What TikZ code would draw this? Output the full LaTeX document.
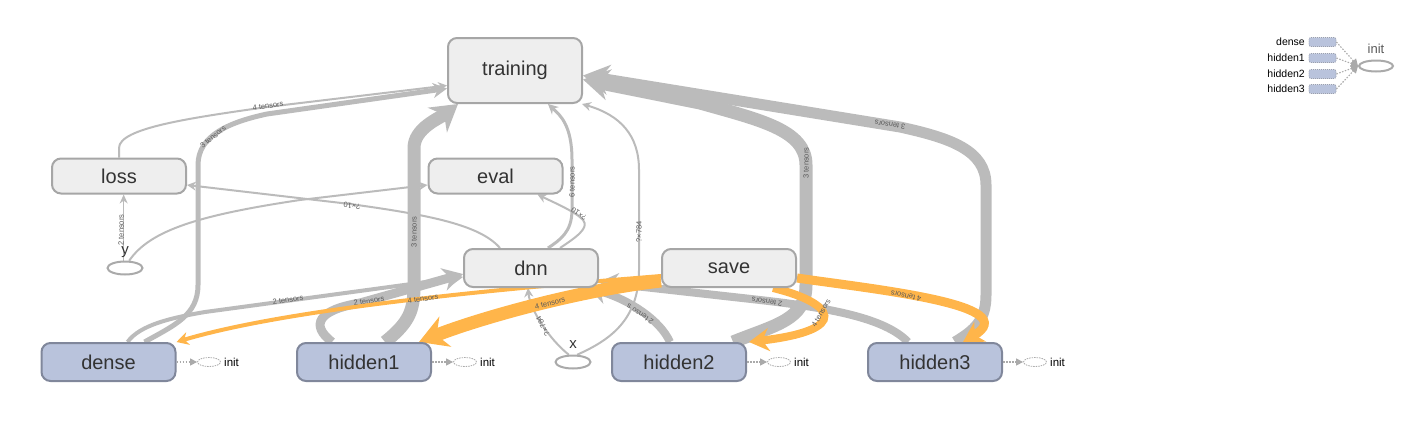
\documentclass[tikz,border=0pt]{standalone}
\usepackage{fontspec}
\setmainfont{Liberation Sans}
\usetikzlibrary{arrows.meta,shapes.geometric}
\definecolor{eg}{RGB}{187,187,187}
\definecolor{ref}{RGB}{255,181,74}
\definecolor{nfill}{RGB}{238,238,238}
\definecolor{ndraw}{RGB}{166,166,166}
\definecolor{bfill}{RGB}{185,195,220}
\definecolor{bdraw}{RGB}{128,135,155}
\definecolor{lbl}{RGB}{90,90,90}
\definecolor{txt}{RGB}{51,51,51}
\definecolor{dotg}{RGB}{170,170,170}
\pgfdeclarelayer{bg}
\pgfsetlayers{bg,main}
\begin{document}
\begin{tikzpicture}[x=1pt,y=-1pt,
  gbox/.style={draw=ndraw, fill=nfill, line width=2pt, rounded corners=9pt,
    minimum width=134pt, minimum height=38pt, inner sep=0pt,
    font=\fontsize{20}{24}\selectfont, text=txt},
  bbox/.style={gbox, draw=bdraw, fill=bfill},
  gedge/.style={draw=eg, line width=#1},
  oedge/.style={draw=ref, line width=#1},
  arr/.style 2 args={-{Stealth[length=#1,width=#2]}},
  elab/.style={font=\fontsize{7.5}{9}\selectfont, text=lbl, inner sep=0pt},
  inell/.style={ellipse, draw=dotg, line width=2pt, fill=white, minimum width=35pt, minimum height=13pt, inner sep=0pt},
  initell/.style={ellipse, draw=dotg, dash pattern=on 1.5pt off 1pt, line width=0.8pt, fill=white, minimum width=23pt, minimum height=9pt, inner sep=0pt},
  initlab/.style={font=\fontsize{11.5}{13}\selectfont, inner sep=0pt},
  dotedge/.style={draw=dotg, line width=1.3pt, dash pattern=on 1.5pt off 1.5pt, -{Triangle[length=7pt,width=7pt]}},
  legbox/.style={draw=bdraw!80, fill=bfill, dash pattern=on 1pt off 1pt, line width=0.8pt, rounded corners=2pt, minimum width=27pt, minimum height=9pt, inner sep=0pt},
  leglab/.style={font=\fontsize{10.5}{12}\selectfont, anchor=east, inner sep=0pt},
  varlab/.style={font=\fontsize{15}{17}\selectfont, text=txt, inner sep=0pt}
]
\useasboundingbox (0,0) rectangle (1420,431);

% nodes
\node[gbox, minimum height=65pt] (training) at (515,70.5) {training};
\node[gbox, minimum height=35pt] (loss) at (119,176) {loss};
\node[gbox, minimum height=35pt] (eval) at (495.5,176) {eval};
\node[gbox] (dnn) at (531,268) {dnn};
\node[gbox] (save) at (729,268) {save};
\node[bbox] (dense) at (108.5,362) {dense};
\node[bbox] (hidden1) at (364,362) {hidden1};
\node[bbox] (hidden2) at (679,362) {hidden2};
\node[bbox] (hidden3) at (935,362) {hidden3};
\node[inell] (y) at (125,268) {};
\node[varlab] (ylab) at (125,252) {y};
\node[inell] (x) at (573,362) {};
\node[varlab] (xlab) at (573,345) {x};

% init nodes
\foreach \n/\cx in {dense/209, hidden1/465, hidden2/779, hidden3/1035}{
  \node[initell] (\n init) at (\cx,362) {};
  \node[initlab, anchor=west] (\n initlab) at (\cx+15,362) {init};
  \draw[dotedge] (\n.east) -- (\n init.west);
}

% legend
\node[inell, minimum width=34pt, minimum height=11pt] (leginit) at (1376,66) {};
\node[font=\fontsize{13}{15}\selectfont, text=lbl, inner sep=0pt] (leginitlab) at (1376,49) {init};
\foreach \i/\t/\yy in {1/dense/42, 2/hidden1/58, 3/hidden2/74, 4/hidden3/89}{
  \node[legbox] (lb\i) at (1322.5,\yy) {};
  \node[leglab] (ll\i) at (1305,\yy) {\t};
  \draw[draw=dotg, line width=1.1pt, dash pattern=on 1.5pt off 1.5pt, -{Triangle[length=7pt,width=7pt]}] (lb\i.east) -- (leginit.west);
}

\begin{pgfonlayer}{bg}
% loss -> training
\draw[gedge=2pt, arr={9pt}{9pt}] (loss.north) -- (119,148) .. controls (119,128) and (190,118) .. (267,107) -- ([yshift=-15pt]training.west);
\node[elab, rotate=8] (l1) at (268,106) {4 tensors};
% dense -> training
\draw[gedge=5pt, arr={14pt}{15pt}] ([xshift=36pt]dense.north) .. controls (175,325) and (198,315) .. (198,285) -- (198,165) .. controls (198,135) and (230,122) .. (267,114) -- ([yshift=-18pt]training.west);
\node[elab, rotate=40] (l2) at (213,137) {3 tensors};
% dense -> dnn
\draw[gedge=4pt, arr={12pt}{13pt}] ([xshift=19pt]dense.north) .. controls (140,325) and (170,318) .. (205,312) -- ([yshift=-9pt]dnn.west);
\node[elab, rotate=8] (l3) at (288,300) {2 tensors};
% hidden1 -> training
\draw[gedge=13pt, arr={26pt}{31pt}] ([xshift=21pt]hidden1.north) .. controls (410,322) and (414,310) .. (414,285) -- (414,148) .. controls (414,128) and (440,118) .. ([xshift=-57pt]training.south);
\node[elab, rotate=90] (l4) at (414,232) {3 tensors};
% hidden1 -> dnn
\draw[gedge=9pt, arr={20pt}{23pt}] ([xshift=-32pt]hidden1.north) .. controls (310,325) and (318,310) .. (360,303) -- ([yshift=-6pt]dnn.west);
\node[elab, rotate=9] (l5) at (369,301) {2 tensors};
% hidden2 -> training
\draw[gedge=13pt, arr={26pt}{31pt}] ([xshift=54pt]hidden2.north) .. controls (775,325) and (806,320) .. (806,285) -- (806,165) .. controls (806,130) and (760,120) .. (700,103) -- ([yshift=-9pt]training.east);
\node[elab, rotate=90] (l10) at (806,163) {3 tensors};
% hidden3 -> training
\draw[gedge=11pt, arr={26pt}{30pt}] ([xshift=20pt]hidden3.north) .. controls (975,330) and (986,320) .. (986,295) -- (986,185) .. controls (986,150) and (950,138) .. (900,127) -- ([yshift=-5pt]training.east);
\node[elab, rotate=171] (l11) at (890,125) {3 tensors};
% hidden3 -> dnn
\draw[gedge=8pt, arr={19pt}{22pt}] ([xshift=-27pt]hidden3.north) .. controls (885,318) and (830,308) .. (760,300) -- ([yshift=-14pt]dnn.east);
\node[elab, rotate=172] (l13) at (767,302) {2 tensors};
% hidden2 -> dnn
\draw[gedge=8pt, arr={18pt}{22pt}] ([xshift=-9pt]hidden2.north) .. controls (660,320) and (630,300) .. ([xshift=-10pt]dnn.south east);
\node[elab, rotate=145] (l12) at (640,314) {2 tensors};
% dnn -> training
\draw[gedge=3pt, arr={10pt}{10pt}] ([xshift=17pt]dnn.north) .. controls (560,240) and (572,232) .. (572,210) -- (572,160) .. controls (572,125) and (560,115) .. ([xshift=33pt]training.south);
\node[elab, rotate=90] (l16) at (572,182) {6 tensors};
% dnn -> eval
\draw[gedge=2pt, arr={9pt}{9pt}] ([xshift=29pt]dnn.north) .. controls (575,238) and (590,228) .. (583,220) .. controls (576,212) and (555,203) .. ([xshift=42pt]eval.south);
\node[elab, rotate=145] (l17) at (579,214) {?×10};
% dnn -> loss
\draw[gedge=2pt, arr={9pt}{9pt}] ([xshift=-31pt]dnn.north) .. controls (480,225) and (430,215) .. (350,204) -- ([yshift=-9pt]loss.east);
\node[elab, rotate=173] (l18) at (352,206) {?×10};
% y -> loss
\draw[gedge=1.6pt, arr={9pt}{8pt}] (y.100) -- (y.100 |- loss.south);
\node[elab, rotate=90] (l19) at (121,230) {2 tensors};
% y -> eval
\draw[gedge=2pt, arr={9pt}{9pt}] (y.60) .. controls (150,230) and (200,215) .. (300,200) -- ([yshift=-9pt]eval.west);
% x -> dnn
\draw[gedge=2pt, arr={9pt}{9pt}] (x.120) .. controls (550,340) and (530,310) .. ([xshift=-3pt]dnn.south);
\node[elab, rotate=118] (l14) at (543,326) {?×784};
% x -> training
\draw[gedge=2pt, arr={9pt}{9pt}] (x.60) .. controls (610,340) and (639,320) .. (639,270) -- (639,170) .. controls (639,135) and (620,115) .. ([xshift=-1pt]training.south east);
\node[elab, rotate=90] (l15) at (639,232) {?×784};
% save -> dense (ref)
\draw[oedge=4pt, arr={12pt}{13pt}] ([yshift=-8pt]save.west) .. controls (550,285) and (300,305) .. (dense.north east);
\node[elab, rotate=8] (l6) at (423,299) {4 tensors};
% save -> hidden1 (ref)
\draw[oedge=13pt, arr={28pt}{32pt}] ([yshift=-13pt]save.west) .. controls (580,290) and (480,318) .. ([xshift=-13pt]hidden1.north east);
\node[elab, rotate=14] (l7) at (550,303) {4 tensors};
% save -> hidden2 (ref)
\draw[oedge=8pt, arr={20pt}{23pt}] ([xshift=44pt]save.south) .. controls (835,303) and (852,330) .. ([xshift=2pt]hidden2.north east);
\node[elab, rotate=60] (l8) at (821,313) {4 tensors};
% save -> hidden3 (ref)
\draw[oedge=9pt, arr={20pt}{23pt}] ([yshift=-10pt]save.east) .. controls (880,290) and (1025,305) .. ([xshift=28pt]hidden3.north);
\node[elab, rotate=168] (l9) at (906,296) {4 tensors};
\end{pgfonlayer}
\end{tikzpicture}
\end{document}
